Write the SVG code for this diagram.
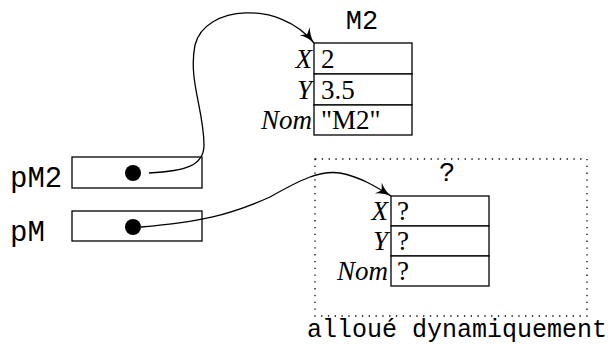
<svg xmlns="http://www.w3.org/2000/svg" width="609" height="345" viewBox="0 0 609 345">
<defs>
<marker id="arr" markerWidth="18" markerHeight="14" refX="15" refY="6.5" orient="auto" markerUnits="userSpaceOnUse">
<path d="M0,0 Q6,5 15,6.5 Q6,8 0,13 L4,6.5 Z" fill="#000"/>
</marker>
<style>
.box{fill:#fff;stroke:#000;stroke-width:1.3}
.lbl{font-family:"Liberation Serif",serif;font-style:italic;font-size:27px;text-anchor:end}
.val{font-family:"Liberation Serif",serif;font-size:27px}
.mono{font-family:"Liberation Mono",monospace;font-size:27px}
.dot{fill:#000}
.conn{fill:none;stroke:#000;stroke-width:1.3}
</style>
</defs>
<rect width="609" height="345" fill="#fff"/>
<g id="m2">
<text class="mono" x="362" y="29" text-anchor="middle">M2</text>
<rect class="box" x="314" y="43" width="98" height="31"/>
<rect class="box" x="314" y="74" width="98" height="31"/>
<rect class="box" x="314" y="105" width="98" height="30"/>
<text class="lbl" x="312" y="68">X</text>
<text class="lbl" x="312" y="99">Y</text>
<text class="lbl" x="312" y="129">Nom</text>
<text class="val" x="321" y="68">2</text>
<text class="val" x="321" y="99">3.5</text>
<text class="val" x="321" y="129">"M2"</text>
</g>
<g id="pM2">
<text class="mono" x="10" y="187" style="font-size:29px">pM2</text>
<rect class="box" x="72" y="157" width="130" height="31"/>
<circle class="dot" cx="133" cy="173" r="8"/>
</g>
<g id="pM">
<text class="mono" x="10" y="241" style="font-size:29px">pM</text>
<rect class="box" x="72" y="211" width="130" height="30"/>
<circle class="dot" cx="133" cy="227" r="8"/>
</g>
<g id="dyn">
<rect x="315" y="159" width="272" height="157" fill="none" stroke="#000" stroke-width="1.3" stroke-dasharray="1.3 5.5"/>
<text class="mono" x="447" y="181" text-anchor="middle">?</text>
<rect class="box" x="391" y="196" width="98" height="30"/>
<rect class="box" x="391" y="226" width="98" height="30"/>
<rect class="box" x="391" y="256" width="98" height="30"/>
<text class="lbl" x="388" y="220">X</text>
<text class="lbl" x="388" y="250">Y</text>
<text class="lbl" x="388" y="280">Nom</text>
<text class="val" x="397" y="220">?</text>
<text class="val" x="397" y="250">?</text>
<text class="val" x="397" y="280">?</text>
<text class="mono" x="307" y="337" style="font-size:25px">alloué dynamiquement</text>
</g>
<g id="connectors">
<path class="conn" marker-end="url(#arr)" d="M149,173 C185,171 204,166 204,145 C204,110 188,80 195,45 C205,5 280,0 314,43"/>
<path class="conn" marker-end="url(#arr)" d="M141,227 C200,222 230,215 270,197 C300,180 320,170 340,173 C360,177 375,186 391,196"/>
</g>
</svg>
